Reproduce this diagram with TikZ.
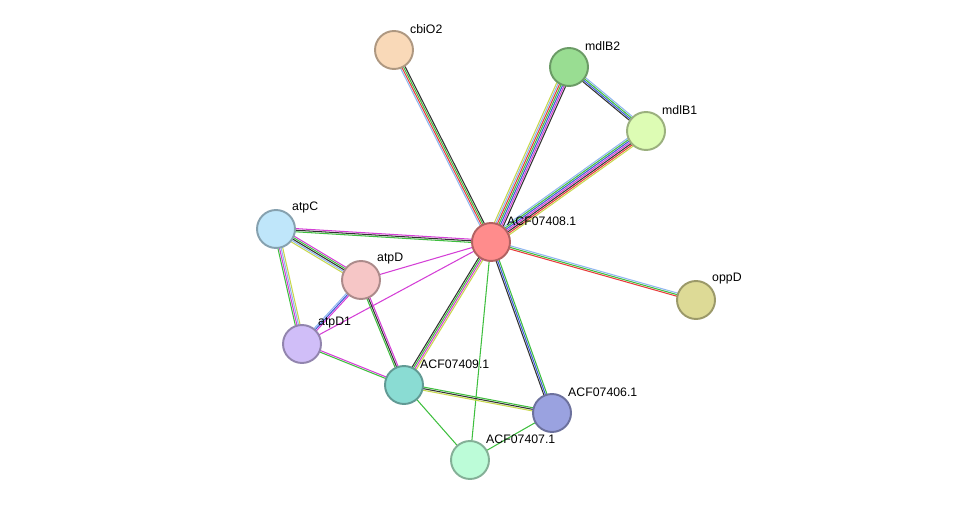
\documentclass[tikz,border=0pt]{standalone}
\usepackage{fontspec}
\setmainfont{Liberation Sans}
\usetikzlibrary{calc,backgrounds}
\definecolor{cnb}{HTML}{3FBF3F}
\definecolor{cfu}{HTML}{E83C3C}
\definecolor{cco}{HTML}{3D5BD6}
\definecolor{ctm}{HTML}{C8D84C}
\definecolor{cex}{HTML}{D43FD6}
\definecolor{cdb}{HTML}{8FB6F0}
\definecolor{cce}{HTML}{333333}
\tikzset{
	prot/.style={circle, minimum size=0.76cm, line width=1.1pt, draw=#1!70!black, fill=#1},
	plabel/.style={font=\fontsize{7}{8}\selectfont, anchor=south west, inner sep=1pt}
}
% multi-coloured link: from, to, number of lines, colours
\newcommand\link[4]{
	\foreach \c [count=\i] in {#4} {
		\pgfmathsetmacro\off{(\i-(#3+1)/2)*0.032}
		\draw[\c, line width=0.6pt] ($(#1)!\off cm!90:(#2)$) -- ($(#2)!\off cm!-90:(#1)$);
	}
}
\begin{document}
\begin{tikzpicture}[x=0.02cm,y=-0.02cm]
	\useasboundingbox (0,0) rectangle (976,506);
	\definecolor{pA}{HTML}{FF8C8C}
	\definecolor{pB}{HTML}{F9D9B8}
	\definecolor{pC}{HTML}{99DD92}
	\definecolor{pD}{HTML}{DDFCB4}
	\definecolor{pE}{HTML}{DDDA96}
	\definecolor{pF}{HTML}{BFE6FA}
	\definecolor{pG}{HTML}{F6C6C6}
	\definecolor{pH}{HTML}{D0BEF8}
	\definecolor{pI}{HTML}{8ADCD3}
	\definecolor{pJ}{HTML}{9AA2E0}
	\definecolor{pK}{HTML}{BCFCD8}

	% proteins
	\node[prot=pA] (acf08) at (491,242) {};
	\node[prot=pB] (cbio2) at (394,50) {};
	\node[prot=pC] (mdlb2) at (569,67) {};
	\node[prot=pD] (mdlb1) at (646,131) {};
	\node[prot=pE] (oppd) at (696,300) {};
	\node[prot=pF] (atpc) at (276,229) {};
	\node[prot=pG] (atpd) at (361,280) {};
	\node[prot=pH] (atpd1) at (302,344) {};
	\node[prot=pI] (acf09) at (404,385) {};
	\node[prot=pJ] (acf06) at (552,413) {};
	\node[prot=pK] (acf07) at (470,460) {};

	% labels
	\node[plabel] at (acf08.north east) {ACF07408.1};
	\node[plabel] at (cbio2.north east) {cbiO2};
	\node[plabel] at (mdlb2.north east) {mdlB2};
	\node[plabel] at (mdlb1.north east) {mdlB1};
	\node[plabel] at (oppd.north east) {oppD};
	\node[plabel] at (atpc.north east) {atpC};
	\node[plabel] at (atpd.north east) {atpD};
	\node[plabel] at (atpd1.north east) {atpD1};
	\node[plabel] at (acf09.north east) {ACF07409.1};
	\node[plabel] at (acf06.north east) {ACF07406.1};
	\node[plabel] at (acf07.north east) {ACF07407.1};

	% links
	\begin{pgfonlayer}{background}
		\link{cbio2}{acf08}{4}{cdb,cfu,cnb,cce}
		\link{mdlb2}{acf08}{7}{ctm,cdb,cfu,cnb,cco,cex,cce}
		\link{mdlb1}{acf08}{7}{cdb,cnb,cco,cex,cce,cfu,ctm}
		\link{mdlb2}{mdlb1}{4}{cce,cco,cnb,cdb}
		\link{acf08}{oppd}{3}{cfu,cnb,cdb}
		\link{atpc}{acf08}{3}{cnb,cce,cex}
		\link{atpd}{acf08}{1}{cex}
		\link{atpd1}{acf08}{1}{cex}
		\link{acf09}{acf08}{4}{ctm,cex,cnb,cce}
		\link{acf06}{acf08}{3}{cnb,cco,cce}
		\link{acf07}{acf08}{1}{cnb}
		\link{atpc}{atpd}{5}{ctm,cdb,cce,cnb,cex}
		\link{atpc}{atpd1}{4}{cnb,cex,cdb,ctm}
		\link{atpd}{atpd1}{3}{cdb,cco,cex}
		\link{atpd}{acf09}{3}{cnb,cce,cex}
		\link{atpd1}{acf09}{2}{cnb,cex}
		\link{acf09}{acf06}{3}{ctm,cce,cnb}
		\link{acf09}{acf07}{1}{cnb}
		\link{acf06}{acf07}{1}{cnb}
	\end{pgfonlayer}
\end{tikzpicture}
\end{document}
